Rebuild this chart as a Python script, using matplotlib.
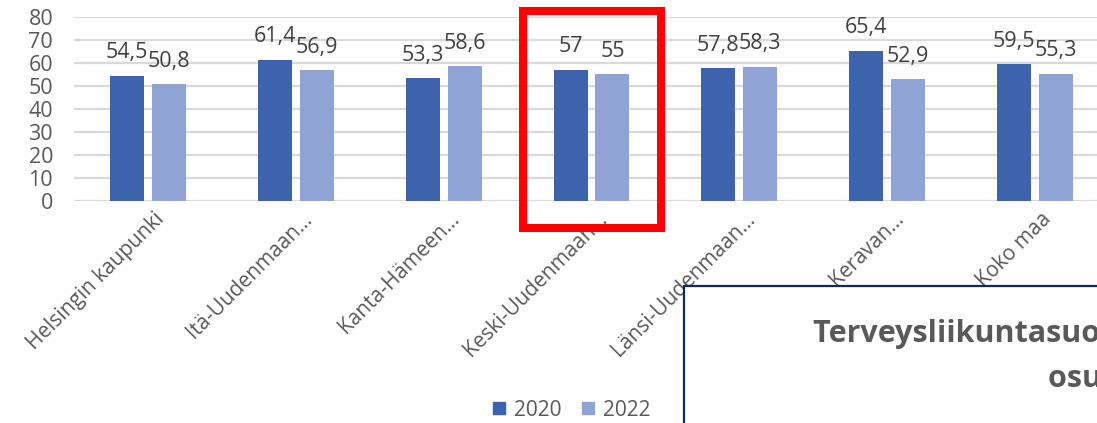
import numpy as np
import matplotlib.pyplot as plt
from matplotlib.patches import Rectangle, Patch
from matplotlib.transforms import ScaledTranslation

# --- data ---
categories = ["Helsingin kaupunki", "Itä-Uudenmaan…", "Kanta-Hämeen…",
              "Keski-Uudenmaan…", "Länsi-Uudenmaan…", "Keravan…", "Koko maa"]
v2020 = [54.5, 61.4, 53.3, 57.0, 57.8, 65.4, 59.5]
v2022 = [50.8, 56.9, 58.6, 55.0, 58.3, 52.9, 55.3]
series_names = ["2020", "2022"]
yticks = [0, 10, 20, 30, 40, 50, 60, 70, 80]

c2020 = "#3D63AD"
c2022 = "#8FA4D5"
txt = "#595959"
W, H = 1097, 423
fs = 15.5

plt.rcParams['font.family'] = ['Open Sans', 'DejaVu Sans']

fig = plt.figure(figsize=(W / 100, H / 100), dpi=100)
# plot area runs past the right edge of the picture (chart is cropped)
ax = fig.add_axes([74 / W, (H - 201) / H, (1109 - 74) / W, 184 / H])

x = np.arange(len(categories))
bw = 0.23
off = 0.142
b1 = ax.bar(x - off, v2020, bw, color=c2020, zorder=3)
b2 = ax.bar(x + off, v2022, bw, color=c2022, zorder=3)


def fmt(v):
    s = f"{v:.1f}".replace(".", ",")
    return s[:-2] if s.endswith(",0") else s


for bars, vals in ((b1, v2020), (b2, v2022)):
    for r, v in zip(bars, vals):
        ax.annotate(fmt(v), (r.get_x() + r.get_width() / 2, v),
                    xytext=(0, 9), textcoords="offset points",
                    ha="center", va="bottom", fontsize=fs, color="#404040")

ax.set_xlim(-0.5, len(categories) - 0.5)
ax.set_ylim(0, 80)
ax.set_yticks(yticks)
ax.yaxis.grid(True, color="#D9D9D9", linewidth=1.6, zorder=0)
ax.set_axisbelow(True)
for s in ax.spines.values():
    s.set_visible(False)
ax.tick_params(axis="both", length=0, labelsize=fs, colors=txt)
ax.tick_params(axis="y", pad=15)
ax.set_xticks(x)
ax.set_xticklabels(categories, rotation=45, ha="right", rotation_mode="anchor", fontsize=15)
shift = ScaledTranslation(4 / 72, -2 / 72, fig.dpi_scale_trans)
for lbl in ax.get_xticklabels():
    lbl.set_transform(lbl.get_transform() + shift)

# legend
handles = [Patch(color=c2020), Patch(color=c2022)]
fig.legend(handles, series_names, loc="center", bbox_to_anchor=(572 / W, 1 - 410 / H),
           ncol=2, frameon=False, fontsize=15, labelcolor=txt,
           handlelength=0.55, handleheight=0.55, handletextpad=0.45, columnspacing=1.0)

# red highlight around Keski-Uudenmaan
fig.add_artist(Rectangle((523 / W, 1 - 228 / H), (661 - 523) / W, (228 - 11) / H,
                         transform=fig.transFigure, fill=False, edgecolor="#FF0000",
                         linewidth=5.8, zorder=5))

# overlapping title box from the slide
fig.add_artist(Rectangle((684 / W, -0.1), 0.5, 1 - 286 / H + 0.1,
                         transform=fig.transFigure, facecolor="white", edgecolor="#0E2A5C",
                         linewidth=1.6, zorder=6))
fig.text(813 / W, 1 - 342 / H, "Terveysliikuntasuosituksen mukaan liikkuvien",
         fontsize=22, fontweight="bold", color=txt, va="baseline", ha="left", zorder=7)
fig.text(1048 / W, 1 - 387 / H, "osuus (%)",
         fontsize=22, fontweight="bold", color=txt, va="baseline", ha="left", zorder=7)

fig.savefig("out.png", dpi=100)
